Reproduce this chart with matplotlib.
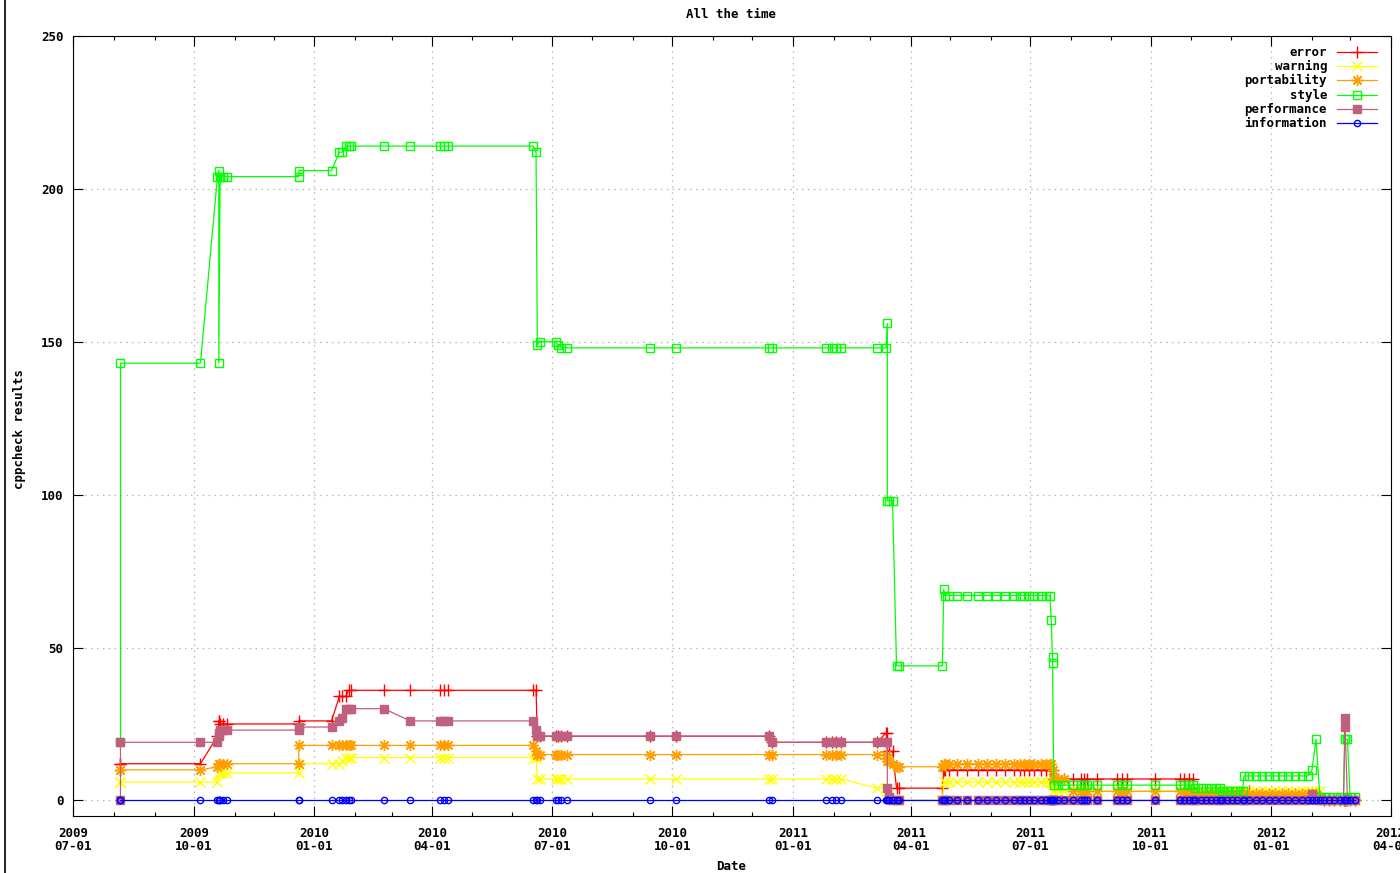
import numpy as np
import pandas as pd
import matplotlib
matplotlib.use('Agg')
import matplotlib.pyplot as plt
import matplotlib.dates as mdates
from matplotlib.lines import Line2D

# one row per cppcheck run
dates = [
    "2009-08-06", "2009-08-06", "2009-10-06", "2009-10-19", "2009-10-20", "2009-10-20", "2009-10-21", "2009-10-23", "2009-10-26", "2009-12-20",
    "2009-12-20", "2010-01-14", "2010-01-20", "2010-01-22", "2010-01-25", "2010-01-27", "2010-01-29", "2010-02-23", "2010-03-15", "2010-04-07",
    "2010-04-10", "2010-04-13", "2010-06-17", "2010-06-19", "2010-06-20", "2010-06-22", "2010-07-04", "2010-07-06", "2010-07-08", "2010-07-13",
    "2010-09-14", "2010-10-04", "2010-12-14", "2010-12-16", "2011-01-26", "2011-01-31", "2011-02-03", "2011-02-07", "2011-03-06", "2011-03-13",
    "2011-03-14", "2011-03-14", "2011-03-15", "2011-03-18", "2011-03-21", "2011-03-23", "2011-04-25", "2011-04-26", "2011-04-27", "2011-04-30",
    "2011-05-06", "2011-05-14", "2011-05-22", "2011-05-29", "2011-06-05", "2011-06-12", "2011-06-19", "2011-06-23", "2011-06-26", "2011-06-30",
    "2011-07-04", "2011-07-09", "2011-07-13", "2011-07-16", "2011-07-17", "2011-07-18", "2011-07-18", "2011-07-19", "2011-07-22", "2011-07-27",
    "2011-08-03", "2011-08-09", "2011-08-11", "2011-08-13", "2011-08-21", "2011-09-05", "2011-09-09", "2011-09-13", "2011-10-04", "2011-10-23",
    "2011-10-26", "2011-10-30", "2011-11-02", "2011-11-04", "2011-11-08", "2011-11-12", "2011-11-16", "2011-11-20", "2011-11-23", "2011-11-24",
    "2011-11-28", "2011-12-02", "2011-12-06", "2011-12-10", "2011-12-11", "2011-12-15", "2011-12-20", "2011-12-25", "2011-12-30", "2012-01-04",
    "2012-01-09", "2012-01-14", "2012-01-19", "2012-01-24", "2012-01-29", "2012-02-01", "2012-02-04", "2012-02-07", "2012-02-10", "2012-02-14",
    "2012-02-18", "2012-02-22", "2012-02-25", "2012-02-26", "2012-02-26", "2012-02-28", "2012-03-01", "2012-03-05",
]

error = [
    12, 12, 12, 21, 26, 26, 25, 25, 25, 25,
    26, 26, 34, 34, 34, 36, 36, 36, 36, 36,
    36, 36, 36, 36, 21, 21, 21, 21, 21, 21,
    21, 21, 21, 19, 19, 19, 19, 19, 19, 22,
    22, 16, 16, 16, 4, 4, 4, 10, 10, 10,
    10, 10, 10, 10, 10, 10, 10, 10, 10, 10,
    10, 10, 10, 10, 10, 10, 7, 7, 7, 7,
    7, 7, 7, 7, 7, 7, 7, 7, 7, 7,
    7, 7, 7, 2, 2, 2, 2, 2, 2, 2,
    2, 2, 2, 2, 2, 3, 2, 2, 2, 2,
    2, 2, 2, 2, 2, 2, 2, 1, 0, 0,
    0, 0, 0, 0, 0, 0, 0, 0,
]

warning = [
    6, 6, 6, 6, 9, 9, 9, 9, 9, 9,
    12, 12, 12, 13, 14, 14, 14, 14, 14, 14,
    14, 14, 14, 14, 7, 7, 7, 7, 7, 7,
    7, 7, 7, 7, 7, 7, 7, 7, 4, 4,
    3, 3, 1, 0, 0, 0, 0, 6, 6, 6,
    6, 6, 6, 6, 6, 6, 6, 6, 6, 6,
    6, 6, 6, 6, 6, 5, 3, 3, 3, 3,
    3, 3, 3, 3, 3, 3, 3, 3, 3, 3,
    3, 3, 3, 3, 3, 3, 3, 3, 3, 3,
    3, 3, 3, 3, 3, 3, 3, 3, 3, 3,
    3, 3, 3, 3, 3, 3, 3, 3, 0, 0,
    0, 0, 0, 0, 0, 0, 0, 0,
]

portability = [
    10, 10, 10, 11, 12, 12, 12, 12, 12, 12,
    18, 18, 18, 18, 18, 18, 18, 18, 18, 18,
    18, 18, 18, 16, 15, 15, 15, 15, 15, 15,
    15, 15, 15, 15, 15, 15, 15, 15, 15, 15,
    14, 13, 13, 12, 11, 11, 11, 12, 12, 12,
    12, 12, 12, 12, 12, 12, 12, 12, 12, 12,
    12, 12, 12, 12, 12, 10, 7, 7, 7, 7,
    3, 3, 3, 3, 3, 3, 3, 3, 3, 3,
    3, 3, 3, 2, 2, 2, 2, 2, 2, 2,
    2, 2, 2, 2, 2, 2, 2, 2, 2, 2,
    2, 2, 2, 2, 2, 2, 2, 1, 0, 0,
    0, 0, 0, 0, 0, 0, 0, 0,
]

style = [
    19, 143, 143, 204, 206, 143, 204, 204, 204, 204,
    206, 206, 212, 212, 214, 214, 214, 214, 214, 214,
    214, 214, 214, 212, 149, 150, 150, 149, 148, 148,
    148, 148, 148, 148, 148, 148, 148, 148, 148, 148,
    156, 98, 98, 98, 44, 44, 44, 69, 67, 67,
    67, 67, 67, 67, 67, 67, 67, 67, 67, 67,
    67, 67, 67, 67, 59, 47, 45, 5, 5, 5,
    5, 5, 5, 5, 5, 5, 5, 5, 5, 5,
    5, 5, 5, 4, 4, 4, 4, 4, 4, 3,
    3, 3, 3, 3, 8, 8, 8, 8, 8, 8,
    8, 8, 8, 8, 8, 10, 20, 1, 1, 1,
    1, 1, 1, 20, 20, 20, 1, 1,
]

performance = [
    0, 19, 19, 19, 21, 22, 23, 23, 23, 23,
    24, 24, 26, 27, 30, 30, 30, 30, 26, 26,
    26, 26, 26, 23, 21, 21, 21, 21, 21, 21,
    21, 21, 21, 19, 19, 19, 19, 19, 19, 19,
    19, 4, 1, 0, 0, 0, 0, 0, 0, 0,
    0, 0, 0, 0, 0, 0, 0, 0, 0, 0,
    0, 0, 0, 0, 0, 0, 0, 0, 0, 0,
    0, 0, 0, 0, 0, 0, 0, 0, 0, 0,
    0, 0, 0, 0, 0, 0, 0, 0, 0, 0,
    0, 0, 0, 0, 0, 0, 0, 0, 0, 0,
    0, 0, 0, 0, 0, 2, 0, 0, 0, 0,
    0, 0, 0, 24, 27, 0, 0, 0,
]

information = [
    0, 0, 0, 0, 0, 0, 0, 0, 0, 0,
    0, 0, 0, 0, 0, 0, 0, 0, 0, 0,
    0, 0, 0, 0, 0, 0, 0, 0, 0, 0,
    0, 0, 0, 0, 0, 0, 0, 0, 0, 0,
    0, 0, 0, 0, 0, 0, 0, 0, 0, 0,
    0, 0, 0, 0, 0, 0, 0, 0, 0, 0,
    0, 0, 0, 0, 0, 0, 0, 0, 0, 0,
    0, 0, 0, 0, 0, 0, 0, 0, 0, 0,
    0, 0, 0, 0, 0, 0, 0, 0, 0, 0,
    0, 0, 0, 0, 0, 0, 0, 0, 0, 0,
    0, 0, 0, 0, 0, 0, 0, 0, 0, 0,
    0, 0, 0, 0, 0, 0, 0, 0,
]

y_ticks = [0, 50, 100, 150, 200, 250]

plt.rcParams['font.family'] = 'DejaVu Sans Mono'
plt.rcParams['font.weight'] = 'bold'
plt.rcParams['font.size'] = 9

x = pd.to_datetime(dates)

# name, values, colour, marker, size, filled
series = [
    ('error', error, '#ff0000', '+', 8.5, True),
    ('warning', warning, '#ffff00', 'x', 6.5, True),
    ('portability', portability, '#ffa000', (8, 2, 0), 8, True),
    ('style', style, '#00ff00', 's', 5.5, False),
    ('performance', performance, '#c0607f', 's', 6, True),
    ('information', information, '#0000ff', 'o', 4.5, False),
]

fig = plt.figure(figsize=(14, 8.73), dpi=100)
ax = fig.add_axes([0.05236, 0.06564, 0.941, 0.89312])

for name, vals, col, mk, ms, filled in series:
    ax.plot(x, vals, color=col, lw=0.9, marker=mk, markersize=ms,
            markerfacecolor=col if filled else 'none', markeredgecolor=col,
            markeredgewidth=1.0)

ax.set_xlim(pd.Timestamp('2009-07-01'), pd.Timestamp('2012-04-01'))
ax.set_ylim(-5, 250)
ax.set_yticks(y_ticks)

ax.xaxis.set_major_locator(mdates.MonthLocator(bymonth=[1, 4, 7, 10]))
ax.xaxis.set_major_formatter(mdates.DateFormatter('%Y\n%m-%d'))
ax.xaxis.set_minor_locator(mdates.MonthLocator())
for lbl in ax.get_xticklabels():
    lbl.set_linespacing(1.05)

ax.tick_params(which='both', direction='in', top=True, right=True, width=0.8)
ax.tick_params(which='major', length=7)
ax.tick_params(which='minor', length=3)
ax.tick_params(axis='x', pad=8)
ax.tick_params(axis='y', pad=7)
for sp in ax.spines.values():
    sp.set_linewidth(0.8)

ax.set_axisbelow(True)
ax.grid(which='major', color='#b4b4b4', linestyle=(0, (1.2, 3.5)), linewidth=0.9)

# gnuplot style key, text right aligned left of the sample
row_px = [52, 66, 80, 95, 109, 123]
for (name, vals, col, mk, ms, filled), py in zip(series, row_px):
    yy = 1 - (py - 36) / 779.7
    ax.text(0.9517, yy, name, ha='right', va='center', transform=ax.transAxes)
    ax.add_line(Line2D([0.9589, 0.9741, 0.9893], [yy, yy, yy], transform=ax.transAxes,
                       color=col, lw=0.9, marker=mk, markersize=ms, markevery=[1],
                       markerfacecolor=col if filled else 'none', markeredgecolor=col,
                       markeredgewidth=1.0, clip_on=False))

fig.text(731 / 1400, 1 - 14 / 873, 'All the time', ha='center', va='center')
fig.text(20 / 1400, 1 - 429 / 873, 'cppcheck results', ha='center', va='center', rotation=90)
fig.text(731 / 1400, 1 - 866 / 873, 'Date', ha='center', va='center')

# window border seen on the left of the screenshot
fig.add_artist(Line2D([5 / 1400, 5 / 1400], [0, 1], transform=fig.transFigure,
                      color='black', lw=1.2))

fig.savefig('out.png', dpi=100)
